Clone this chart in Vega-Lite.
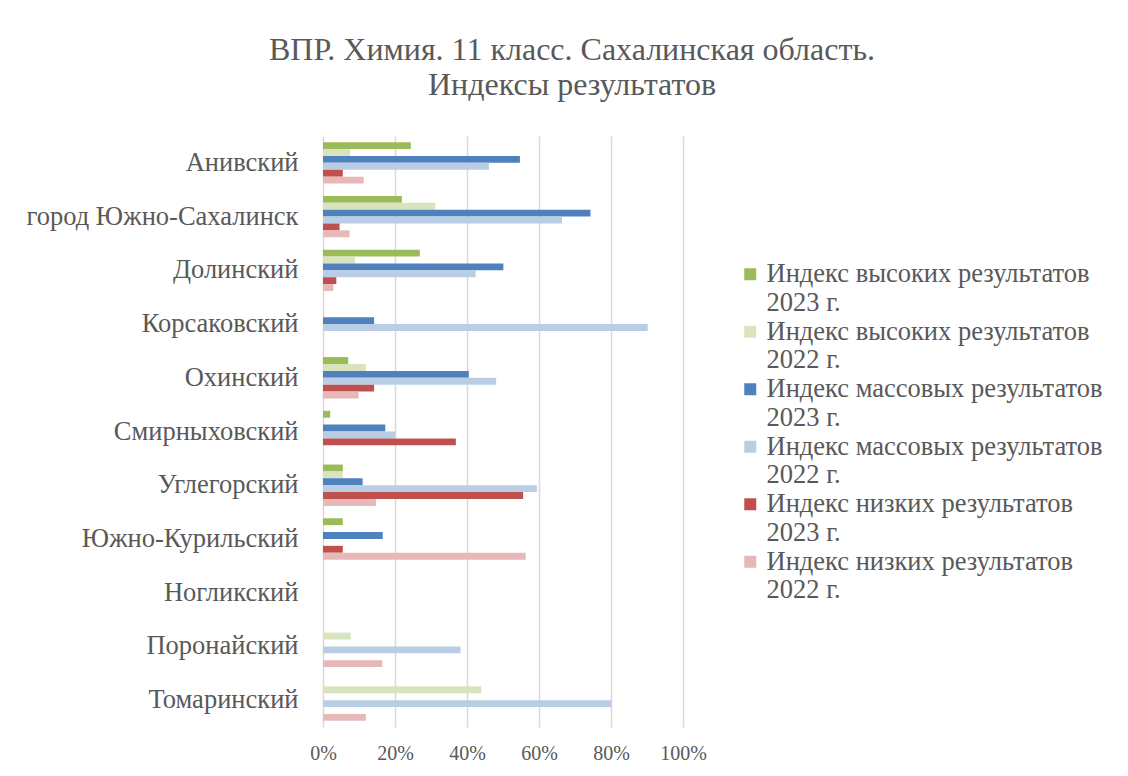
{
  "$schema": "https://vega.github.io/schema/vega-lite/v6.json",
  "autosize": {"type": "none"},
  "width": 360,
  "height": 591,
  "padding": {"left": 323, "top": 136, "right": 445, "bottom": 49},
  "background": "white",
  "title": {
    "text": ["ВПР. Химия. 11 класс. Сахалинская область.", "Индексы результатов"],
    "font": "Liberation Serif",
    "fontSize": 32,
    "fontWeight": "normal",
    "color": "#595959",
    "anchor": "middle",
    "frame": "group",
    "dx": 69,
    "offset": 34,
    "lineHeight": 35
  },
  "data": {
    "values": [
      {"region": "Анивский", "series": "Индекс высоких результатов 2023 г.", "value": 24.4},
      {"region": "Анивский", "series": "Индекс высоких результатов 2022 г.", "value": 7.5},
      {"region": "Анивский", "series": "Индекс массовых результатов 2023 г.", "value": 54.7},
      {"region": "Анивский", "series": "Индекс массовых результатов 2022 г.", "value": 46.1},
      {"region": "Анивский", "series": "Индекс низких результатов 2023 г.", "value": 5.5},
      {"region": "Анивский", "series": "Индекс низких результатов 2022 г.", "value": 11.3},
      {"region": "город Южно-Сахалинск", "series": "Индекс высоких результатов 2023 г.", "value": 21.9},
      {"region": "город Южно-Сахалинск", "series": "Индекс высоких результатов 2022 г.", "value": 31.2},
      {"region": "город Южно-Сахалинск", "series": "Индекс массовых результатов 2023 г.", "value": 74.3},
      {"region": "город Южно-Сахалинск", "series": "Индекс массовых результатов 2022 г.", "value": 66.4},
      {"region": "город Южно-Сахалинск", "series": "Индекс низких результатов 2023 г.", "value": 4.6},
      {"region": "город Южно-Сахалинск", "series": "Индекс низких результатов 2022 г.", "value": 7.4},
      {"region": "Долинский", "series": "Индекс высоких результатов 2023 г.", "value": 26.9},
      {"region": "Долинский", "series": "Индекс высоких результатов 2022 г.", "value": 8.9},
      {"region": "Долинский", "series": "Индекс массовых результатов 2023 г.", "value": 50.1},
      {"region": "Долинский", "series": "Индекс массовых результатов 2022 г.", "value": 42.4},
      {"region": "Долинский", "series": "Индекс низких результатов 2023 г.", "value": 3.7},
      {"region": "Долинский", "series": "Индекс низких результатов 2022 г.", "value": 2.9},
      {"region": "Корсаковский", "series": "Индекс массовых результатов 2023 г.", "value": 14.2},
      {"region": "Корсаковский", "series": "Индекс массовых результатов 2022 г.", "value": 90.2},
      {"region": "Охинский", "series": "Индекс высоких результатов 2023 г.", "value": 7.0},
      {"region": "Охинский", "series": "Индекс высоких результатов 2022 г.", "value": 11.9},
      {"region": "Охинский", "series": "Индекс массовых результатов 2023 г.", "value": 40.5},
      {"region": "Охинский", "series": "Индекс массовых результатов 2022 г.", "value": 48.1},
      {"region": "Охинский", "series": "Индекс низких результатов 2023 г.", "value": 14.2},
      {"region": "Охинский", "series": "Индекс низких результатов 2022 г.", "value": 9.9},
      {"region": "Смирныховский", "series": "Индекс высоких результатов 2023 г.", "value": 2.0},
      {"region": "Смирныховский", "series": "Индекс массовых результатов 2023 г.", "value": 17.3},
      {"region": "Смирныховский", "series": "Индекс массовых результатов 2022 г.", "value": 20.0},
      {"region": "Смирныховский", "series": "Индекс низких результатов 2023 г.", "value": 36.9},
      {"region": "Углегорский\u00a0", "series": "Индекс высоких результатов 2023 г.", "value": 5.5},
      {"region": "Углегорский\u00a0", "series": "Индекс высоких результатов 2022 г.", "value": 5.5},
      {"region": "Углегорский\u00a0", "series": "Индекс массовых результатов 2023 г.", "value": 11.0},
      {"region": "Углегорский\u00a0", "series": "Индекс массовых результатов 2022 г.", "value": 59.4},
      {"region": "Углегорский\u00a0", "series": "Индекс низких результатов 2023 г.", "value": 55.6},
      {"region": "Углегорский\u00a0", "series": "Индекс низких результатов 2022 г.", "value": 14.7},
      {"region": "Южно-Курильский", "series": "Индекс высоких результатов 2023 г.", "value": 5.5},
      {"region": "Южно-Курильский", "series": "Индекс массовых результатов 2023 г.", "value": 16.6},
      {"region": "Южно-Курильский", "series": "Индекс низких результатов 2023 г.", "value": 5.5},
      {"region": "Южно-Курильский", "series": "Индекс низких результатов 2022 г.", "value": 56.3},
      {"region": "Поронайский", "series": "Индекс высоких результатов 2022 г.", "value": 7.7},
      {"region": "Поронайский", "series": "Индекс массовых результатов 2022 г.", "value": 38.2},
      {"region": "Поронайский", "series": "Индекс низких результатов 2022 г.", "value": 16.5},
      {"region": "Томаринский", "series": "Индекс высоких результатов 2022 г.", "value": 44.0},
      {"region": "Томаринский", "series": "Индекс массовых результатов 2022 г.", "value": 80.1},
      {"region": "Томаринский", "series": "Индекс низких результатов 2022 г.", "value": 11.9}
    ]
  },
  "mark": {"type": "bar"},
  "encoding": {
    "y": {
      "field": "region",
      "type": "nominal",
      "scale": {
        "domain": ["Анивский", "город Южно-Сахалинск", "Долинский", "Корсаковский", "Охинский", "Смирныховский", "Углегорский\u00a0", "Южно-Курильский", "Ногликский", "Поронайский", "Томаринский"],
        "paddingInner": 0.23,
        "paddingOuter": 0.115
      },
      "axis": {
        "title": null,
        "domain": false,
        "ticks": false,
        "grid": false,
        "labelFont": "Liberation Serif",
        "labelFontSize": 26.5,
        "labelColor": "#595959",
        "labelPadding": 25,
        "labelLimit": 400
      }
    },
    "yOffset": {
      "field": "series",
      "type": "nominal",
      "scale": {
        "domain": ["Индекс высоких результатов 2023 г.", "Индекс высоких результатов 2022 г.", "Индекс массовых результатов 2023 г.", "Индекс массовых результатов 2022 г.", "Индекс низких результатов 2023 г.", "Индекс низких результатов 2022 г."],
        "paddingInner": 0,
        "paddingOuter": 0
      }
    },
    "x": {
      "field": "value",
      "type": "quantitative",
      "scale": {"domain": [0, 100], "nice": false},
      "axis": {
        "title": null,
        "values": [0, 20, 40, 60, 80, 100],
        "labelExpr": "datum.value + '%'",
        "labelFlush": false,
        "labelOverlap": false,
        "domain": false,
        "ticks": false,
        "grid": true,
        "gridColor": "#D9D9D9",
        "gridWidth": 1.5,
        "labelFont": "Liberation Serif",
        "labelFontSize": 20,
        "labelColor": "#595959",
        "labelPadding": 16
      }
    },
    "color": {
      "field": "series",
      "type": "nominal",
      "scale": {
        "domain": ["Индекс высоких результатов 2023 г.", "Индекс высоких результатов 2022 г.", "Индекс массовых результатов 2023 г.", "Индекс массовых результатов 2022 г.", "Индекс низких результатов 2023 г.", "Индекс низких результатов 2022 г."],
        "range": ["#9BBB59", "#D7E4BD", "#4F81BD", "#B9CDE5", "#C0504D", "#E6B9B8"]
      },
      "legend": {
        "title": null,
        "orient": "none",
        "legendX": 414,
        "legendY": 125,
        "symbolType": "square",
        "symbolSize": 144,
        "symbolStrokeWidth": 0,
        "labelFont": "Liberation Serif",
        "labelFontSize": 26.5,
        "labelColor": "#595959",
        "labelLimit": 400,
        "labelOffset": 3,
        "labelExpr": "[substring(datum.label, 0, indexof(datum.label, ' 202')), substring(datum.label, indexof(datum.label, ' 202') + 1)]",
        "rowPadding": 1.5
      }
    }
  },
  "config": {
    "view": {"stroke": null},
    "legend": {"labelLineHeight": 28}
  }
}
